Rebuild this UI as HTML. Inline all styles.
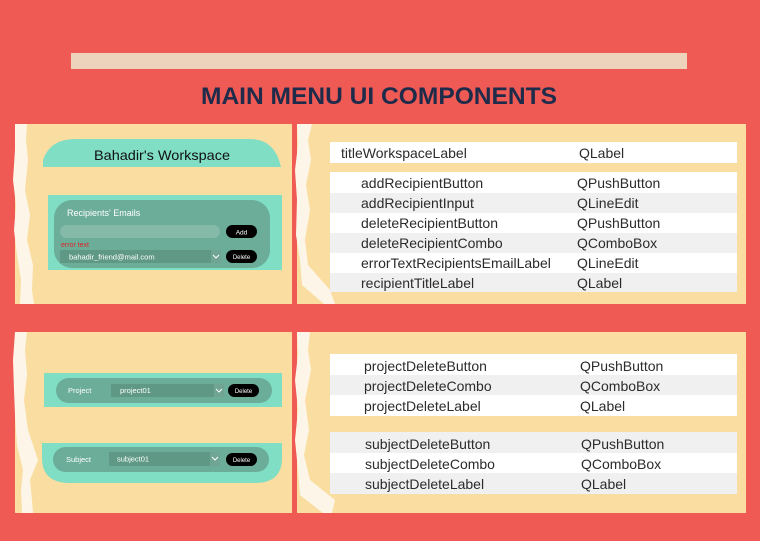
<!DOCTYPE html>
<html><head><meta charset="utf-8"><style>
body{margin:0;background:#EF5B54;}
svg{display:block}
text{font-family:"Liberation Sans",sans-serif}
</style></head><body>
<svg width="760" height="541" viewBox="0 0 760 541" xmlns="http://www.w3.org/2000/svg">
<rect width="760" height="541" fill="#EF5B54"/>
<rect x="71" y="53" width="616" height="16" fill="#EED3BC"/>
<text x="379" y="104" font-size="24" font-weight="bold" fill="#1F2B4A" text-anchor="middle" textLength="356" lengthAdjust="spacingAndGlyphs">MAIN MENU UI COMPONENTS</text>

<!-- panels -->
<rect x="15" y="124" width="277" height="180" fill="#FADDA0"/>
<rect x="15" y="332" width="277" height="181" fill="#FADDA0"/>
<rect x="297" y="124" width="449" height="180" fill="#FADDA0"/>
<rect x="297" y="332" width="449" height="181" fill="#FADDA0"/>
<!-- torn strips -->
<polygon points="15,124 27,124 26,140 28,160 25,190 30,215 27,240 33,265 32,290 34,304 20,304 21,280 17,255 14,230 16,205 13,180 15,150" fill="#FDF6E8"/>
<polygon points="15,332 27,332 25,350 27,375 24,400 28,430 38,460 30,480 32,500 33,513 22,513 21,490 23,470 17,445 15,415 14,390 13,360" fill="#FDF6E8"/>
<polygon points="297,124 312,124 308,140 311,160 306,185 310,210 305,240 308,265 330,290 335,304 324,304 302,285 300,260 296,235 297,200 295,170 298,145" fill="#FDF6E8"/>
<polygon points="297,332 310,332 308,350 311,370 305,400 309,430 304,455 310,480 335,500 332,513 323,513 300,495 298,470 295,440 298,410 295,380 298,355" fill="#FDF6E8"/>

<!-- title pill -->
<path d="M43,167 L43,160 Q50,139 75,139 L250,139 Q275,139 281,167 Z" fill="#80DEC4"/>
<text x="162" y="160" font-size="14" fill="#111" text-anchor="middle" textLength="136" lengthAdjust="spacingAndGlyphs">Bahadir's Workspace</text>

<!-- recipients -->
<rect x="48" y="195" width="234" height="75" fill="#80DEC4"/>
<rect x="54" y="200" width="216" height="68" rx="18" fill="#6BAD99"/>
<text x="67" y="216" font-size="9" fill="#fff">Recipients' Emails</text>
<rect x="60" y="225" width="160" height="13" rx="6.5" fill="#85BAA8"/>
<rect x="226" y="225" width="31" height="13" rx="6.5" fill="#000"/>
<text x="241.5" y="234.5" font-size="6.5" fill="#fff" text-anchor="middle">Add</text>
<text x="61" y="247" font-size="7" fill="#E0242A">error text</text>
<rect x="60" y="250" width="161" height="13" fill="#5F9985"/>
<rect x="211" y="250" width="10" height="13" fill="#6FA592"/>
<path d="M213,255 l3,3 l3,-3" stroke="#fff" fill="none" stroke-width="1"/>
<text x="69" y="259.5" font-size="7.5" fill="#fff">bahadir_friend@mail.com</text>
<rect x="226" y="250" width="31" height="13" rx="6.5" fill="#000"/>
<text x="241.5" y="259" font-size="6" fill="#fff" text-anchor="middle">Delete</text>

<!-- project -->
<rect x="44" y="373" width="238" height="34" fill="#80DEC4"/>
<rect x="56" y="378" width="216" height="25" rx="12.5" fill="#6BAD99"/>
<text x="68" y="393" font-size="7.5" fill="#fff">Project</text>
<rect x="111" y="384" width="113" height="13" fill="#5F9985"/>
<rect x="214" y="384" width="10" height="13" fill="#6FA592"/>
<path d="M216,389 l3,3 l3,-3" stroke="#fff" fill="none" stroke-width="1"/>
<text x="120" y="393" font-size="7.5" fill="#fff">project01</text>
<rect x="228" y="384" width="31" height="13" rx="6.5" fill="#000"/>
<text x="243.5" y="393" font-size="6" fill="#fff" text-anchor="middle">Delete</text>

<!-- subject -->
<path d="M42,443 L282,443 L282,458 Q282,483 255,483 L70,483 Q42,483 42,458 Z" fill="#80DEC4"/>
<rect x="53" y="447" width="216" height="25" rx="12.5" fill="#6BAD99"/>
<text x="66" y="462" font-size="7.5" fill="#fff">Subject</text>
<rect x="109" y="452" width="111" height="14" fill="#5F9985"/>
<rect x="210" y="452" width="10" height="14" fill="#6FA592"/>
<path d="M212,457 l3,3 l3,-3" stroke="#fff" fill="none" stroke-width="1"/>
<text x="117" y="461.5" font-size="7.5" fill="#fff">subject01</text>
<rect x="226" y="453" width="31" height="13" rx="6.5" fill="#000"/>
<text x="241.5" y="462" font-size="6" fill="#fff" text-anchor="middle">Delete</text>

<!-- tables -->
<g font-size="14" fill="#2b2b2b">
<rect x="330" y="142" width="407" height="21" fill="#fff"/>
<text x="341" y="158">titleWorkspaceLabel</text><text x="579" y="158">QLabel</text>

<rect x="330" y="172" width="407" height="21" fill="#fff"/>
<rect x="330" y="193" width="407" height="20" fill="#EFF0EF"/>
<rect x="330" y="213" width="407" height="20" fill="#fff"/>
<rect x="330" y="233" width="407" height="20" fill="#EFF0EF"/>
<rect x="330" y="253" width="407" height="20" fill="#fff"/>
<rect x="330" y="273" width="407" height="19" fill="#EFF0EF"/>
<text x="361" y="188">addRecipientButton</text><text x="577" y="188">QPushButton</text>
<text x="361" y="208">addRecipientInput</text><text x="577" y="208">QLineEdit</text>
<text x="361" y="228">deleteRecipientButton</text><text x="577" y="228">QPushButton</text>
<text x="361" y="248">deleteRecipientCombo</text><text x="577" y="248">QComboBox</text>
<text x="361" y="268">errorTextRecipientsEmailLabel</text><text x="577" y="268">QLineEdit</text>
<text x="361" y="288">recipientTitleLabel</text><text x="577" y="288">QLabel</text>

<rect x="330" y="354" width="407" height="21" fill="#fff"/>
<rect x="330" y="375" width="407" height="20" fill="#EFF0EF"/>
<rect x="330" y="395" width="407" height="21" fill="#fff"/>
<text x="364" y="371">projectDeleteButton</text><text x="580" y="371">QPushButton</text>
<text x="364" y="391">projectDeleteCombo</text><text x="580" y="391">QComboBox</text>
<text x="364" y="411">projectDeleteLabel</text><text x="580" y="411">QLabel</text>

<rect x="330" y="432" width="407" height="21" fill="#EFF0EF"/>
<rect x="330" y="453" width="407" height="20" fill="#fff"/>
<rect x="330" y="473" width="407" height="21" fill="#EFF0EF"/>
<text x="365" y="449">subjectDeleteButton</text><text x="581" y="449">QPushButton</text>
<text x="365" y="469">subjectDeleteCombo</text><text x="581" y="469">QComboBox</text>
<text x="365" y="489">subjectDeleteLabel</text><text x="581" y="489">QLabel</text>
</g>
</svg>
</body></html>
